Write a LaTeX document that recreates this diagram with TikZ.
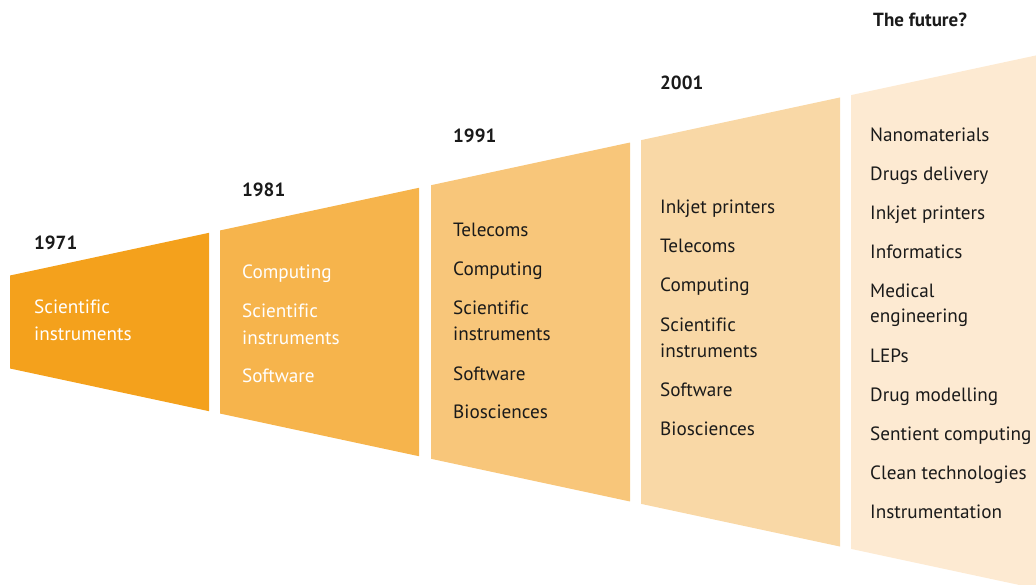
\documentclass[tikz,border=0pt]{standalone}
\usepackage{fontspec}
\setmainfont[Ligatures=NoCommon]{PT Sans}
\definecolor{cA}{RGB}{244,161,28}
\definecolor{cB}{RGB}{246,180,76}
\definecolor{cC}{RGB}{248,198,122}
\definecolor{cD}{RGB}{249,216,166}
\definecolor{cE}{RGB}{253,234,210}
\definecolor{ink}{RGB}{26,26,26}
\newcommand{\funnelseg}[3]{%
  \fill[#3] (#1,{275.5-0.2145*(#1-10)}) -- (#2,{275.5-0.2145*(#2-10)})
    -- (#2,{368.5+0.2145*(#2-10)}) -- (#1,{368.5+0.2145*(#1-10)}) -- cycle;}
\tikzset{
  item/.style={anchor=base west, inner sep=0pt, font=\fontsize{19.2}{19.2}\selectfont, text=ink},
  witem/.style={item, text=white},
  year/.style={anchor=base west, inner sep=0pt, font=\fontsize{19}{19}\selectfont\bfseries, text=ink}
}
\begin{document}
\begin{tikzpicture}[x=1pt,y=-1pt]
\useasboundingbox (0,0) rectangle (1036,585);
\clip (0,0) rectangle (1036,585);
\funnelseg{10}{209}{cA}
\funnelseg{220}{419}{cB}
\funnelseg{431}{630}{cC}
\funnelseg{641}{840}{cD}
\funnelseg{851}{1040}{cE}
% years
\node[year] (y1) at (34,250) {1971};
\node[year] (y2) at (242,197) {1981};
\node[year] (y3) at (453,143) {1991};
\node[year] (y4) at (660,90) {2001};
\node[year] (y5) at (873,27) {The future?};
% 1971
\node[witem] (a1) at (34,314) {Scientific};
\node[witem] (a2) at (34,340) {instruments};
% 1981
\node[witem] (b1) at (242,279) {Computing};
\node[witem] (b2) at (242,318) {Scientific};
\node[witem] (b3) at (242,344) {instruments};
\node[witem] (b4) at (242,382) {Software};
% 1991
\node[item] (c1) at (453,237) {Telecoms};
\node[item] (c2) at (453,276) {Computing};
\node[item] (c3) at (453,315) {Scientific};
\node[item] (c4) at (453,341) {instruments};
\node[item] (c5) at (453,380) {Software};
\node[item] (c6) at (453,418) {Biosciences};
% 2001
\node[item] (d1) at (660,214) {Inkjet printers};
\node[item] (d2) at (660,253) {Telecoms};
\node[item] (d3) at (660,292) {Computing};
\node[item] (d4) at (660,331) {Scientific};
\node[item] (d5) at (660,357) {instruments};
\node[item] (d6) at (660,396) {Software};
\node[item] (d7) at (660,435) {Biosciences};
% future
\node[item] (e1) at (870,142) {Nanomaterials};
\node[item] (e2) at (870,181) {Drugs delivery};
\node[item] (e3) at (870,220) {Inkjet printers};
\node[item] (e4) at (870,259) {Informatics};
\node[item] (e5) at (870,298) {Medical};
\node[item] (e6) at (870,323) {engineering};
\node[item] (e7) at (870,362) {LEPs};
\node[item] (e8) at (870,401) {Drug modelling};
\node[item] (e9) at (870,440) {Sentient computing};
\node[item] (e10) at (870,479) {Clean technologies};
\node[item] (e11) at (870,518) {Instrumentation};
\end{tikzpicture}
\end{document}
